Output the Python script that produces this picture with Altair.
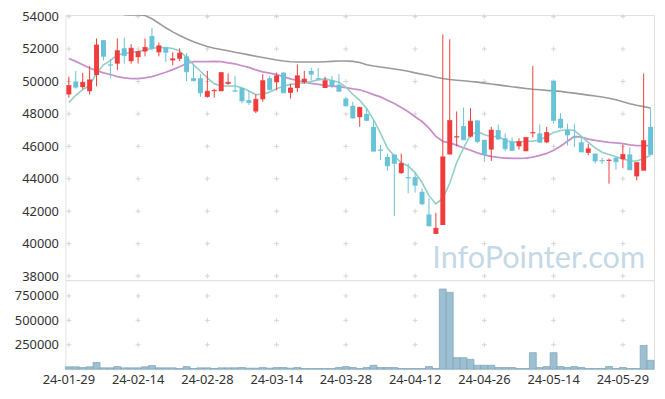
import altair as alt
import pandas as pd

dates = ["24-01-29","24-01-30","24-01-31","24-02-01","24-02-02","24-02-05","24-02-06","24-02-07","24-02-08","24-02-13",
         "24-02-14","24-02-15","24-02-16","24-02-19","24-02-20","24-02-21","24-02-22","24-02-23","24-02-26","24-02-27",
         "24-02-28","24-02-29","24-03-04","24-03-05","24-03-06","24-03-07","24-03-08","24-03-11","24-03-12","24-03-13",
         "24-03-14","24-03-15","24-03-18","24-03-19","24-03-20","24-03-21","24-03-22","24-03-25","24-03-26","24-03-27",
         "24-03-28","24-03-29","24-04-01","24-04-02","24-04-03","24-04-04","24-04-05","24-04-08","24-04-09","24-04-11",
         "24-04-12","24-04-15","24-04-16","24-04-17","24-04-18","24-04-19","24-04-22","24-04-23","24-04-24","24-04-25",
         "24-04-26","24-04-29","24-04-30","24-05-02","24-05-03","24-05-07","24-05-08","24-05-09","24-05-10","24-05-13",
         "24-05-14","24-05-16","24-05-17","24-05-20","24-05-21","24-05-22","24-05-23","24-05-24","24-05-27","24-05-28",
         "24-05-29","24-05-30","24-05-31","24-06-03","24-06-04"]

opens = [49200,50000,49650,49400,50400,52550,51050,51100,52050,51250,
         51500,51850,52800,51800,52100,51300,51400,51550,50200,50200,
         49050,49400,49400,49850,49450,49600,48850,48150,48900,50200,
         49950,50550,49300,49600,49950,50650,50200,49600,50050,49800,
         48950,48500,47800,48000,47200,45800,45350,45500,44350,44100,
         44100,43200,41800,40600,41150,45500,46550,47250,46600,47600,
         46400,45800,47000,46500,46300,46000,45700,46800,46800,46250,
         50050,47700,47000,46600,46250,45600,45550,45150,45100,45300,
         45200,45500,44150,44500,47200]
highs = [50300,50650,50530,50950,52650,52550,51400,52650,52700,52300,
         51900,52650,53300,52400,52100,51800,52050,51750,51050,50450,
         50650,49550,50550,50500,50350,49600,49450,49200,50450,50350,
         50550,50550,49850,51050,50650,50850,50830,50300,50350,50450,
         49050,48750,48450,48350,47600,46100,45550,45500,45550,44950,
         44350,43400,42800,41900,52900,52600,48150,48400,48350,47600,
         46400,47200,47350,46800,46550,46500,46550,50950,47350,47200,
         50050,48050,47400,47400,46650,46150,45550,45300,45250,45300,
         46100,45950,45000,50500,48350]
lows = [49000,49550,49550,49200,49700,51300,50200,50700,51100,51100,
        51100,51550,51900,51550,51200,51000,51250,50000,50000,49050,
        49000,49000,49400,49800,49350,48650,48550,48050,48750,49450,
        49450,49300,48950,49350,49850,50050,50100,49600,49600,49350,
        48450,47700,47200,47550,45700,45150,44500,41700,44300,43100,
        43150,42380,41050,40600,41150,45500,46000,46400,46550,46200,
        45050,45100,46400,45700,45700,45800,45700,46550,46250,46200,
        47400,47100,46050,45950,45650,45450,44950,44900,43700,44550,
        44650,44550,43900,44500,45500]
closes = [49750,49650,49950,50100,52250,51550,51000,51900,51600,52050,
          51850,52100,52050,52200,51800,51400,51750,50600,50050,49300,
          49400,49450,50550,49950,49400,48800,48700,48900,50050,49500,
          50350,49300,49600,50350,50150,50450,50150,50050,49750,49400,
          48500,47750,48400,47600,45700,45750,44800,44950,44950,44050,
          43600,42450,41100,40950,45350,47600,46600,46400,47550,46300,
          45500,47000,46450,45850,45750,46300,46550,46850,46250,46850,
          47600,47150,46700,46550,45650,45850,45100,45100,45150,45050,
          45500,44550,45000,46350,45500]

ma5 = [48700,49150,49490,49760,50500,51030,51280,51640,51720,51790,
       51850,51950,52030,52090,52090,52030,51890,51480,51040,50630,
       50220,49860,49720,49720,49720,49620,49410,49190,49210,49350,
       49550,49700,49820,49860,49920,50000,50100,50160,50060,49960,
       49660,49210,48840,48340,47630,46820,45900,45400,44990,44790,
       44380,43770,42960,42450,42800,43720,45000,45900,46700,46920,
       46720,46610,46610,46370,46250,46250,46310,46310,46410,46610,
       46860,46980,47020,46980,46610,46250,45900,45640,45500,45360,
       45230,45100,45100,45250,45450]
ma20 = [51420,51240,51030,50830,50670,50530,50430,50300,50220,50180,
        50180,50220,50300,50430,50570,50730,50910,51110,51220,51220,
        51220,51240,51220,51140,51080,50970,50870,50710,50590,50510,
        50430,50300,50160,50060,49960,49880,49820,49760,49720,49680,
        49620,49550,49490,49350,49190,49050,48840,48640,48400,48130,
        47830,47530,47120,46610,46310,46210,46070,45900,45760,45600,
        45480,45380,45320,45280,45260,45260,45280,45340,45440,45560,
        45760,46000,46310,46610,46570,46450,46370,46310,46250,46210,
        46170,46090,46050,46050,46050]
ma60 = [None,None,None,None,None,None,54600,54300,54120,54100,
        54100,54070,53870,53590,53310,53060,52840,52640,52450,52290,
        52150,52050,51970,51890,51800,51720,51640,51560,51480,51400,
        51320,51260,51220,51200,51200,51200,51200,51220,51240,51260,
        51260,51240,51170,51030,50950,50890,50830,50770,50710,50630,
        50530,50450,50370,50260,50180,50120,50080,50040,50000,49960,
        49900,49840,49790,49730,49670,49620,49570,49520,49490,49450,
        49420,49390,49330,49280,49220,49160,49100,49040,48970,48870,
        48750,48630,48530,48450,48360]
volumes = [24000,24000,17000,24000,68000,14000,14000,27000,14000,14000,
           14000,24000,37000,14000,14000,14000,7000,27000,7000,14000,
           14000,7000,14000,14000,14000,17000,10000,10000,17000,10000,
           17000,17000,10000,17000,7000,7000,7000,7000,7000,17000,
           27000,17000,7000,17000,40000,17000,17000,17000,7000,7000,
           7000,7000,27000,7000,821000,787000,118000,118000,101000,40000,
           40000,40000,17000,17000,17000,7000,7000,169000,17000,27000,
           169000,27000,17000,27000,17000,7000,7000,7000,27000,7000,
           17000,7000,7000,243000,91000]

label_dates = dates[::10]
price_ticks = list(range(38000, 54001, 2000))
vol_ticks = [250000, 500000, 750000]

RED = "#f03c3c"
BLUE = "#68c2d8"
FONT = "Noto Sans"
CROSS = "M-1,0L1,0M0,-1L0,1"

df = pd.DataFrame(dict(date=dates, open=opens, high=highs, low=lows, close=closes,
                       ma5=ma5, ma20=ma20, vol=volumes))
df["idx"] = range(len(df))
df["dir"] = ["up" if c >= o else "down" for o, c in zip(opens, closes)]
df60 = pd.DataFrame(dict(date=dates, ma60=ma60, idx=range(len(dates)))).dropna()

xscale = alt.Scale(domain=dates, paddingInner=0, paddingOuter=0)
yscale = alt.Scale(domain=[37750, 54100], nice=False, zero=False)
vscale = alt.Scale(domain=[0, 912000], nice=False, zero=False)

yaxis = alt.Axis(values=price_ticks, title=None, ticks=False, domain=False, grid=False,
                 labelPadding=7, labelFontSize=13, labelColor="#333333", labelFont=FONT,
                 minExtent=48, maxExtent=48, format="d")
vaxis = alt.Axis(values=vol_ticks, title=None, ticks=False, domain=False, grid=False,
                 labelPadding=7, labelFontSize=13, labelColor="#333333", labelFont=FONT,
                 minExtent=48, maxExtent=48, format="d")
xaxis = alt.Axis(values=label_dates, title=None, labelAngle=0, ticks=False, domain=False,
                 grid=False, labelPadding=4, labelFontSize=13, labelColor="#333333",
                 labelFont=FONT)

xh = alt.X("date:N", scale=xscale, axis=None, sort=None)
color = alt.Color("dir:N", scale=alt.Scale(domain=["up", "down"], range=[RED, BLUE]), legend=None)

cross_p = pd.DataFrame([(d, p) for d in label_dates for p in price_ticks], columns=["date", "p"])
cross_v = pd.DataFrame([(d, v) for d in label_dates for v in vol_ticks], columns=["date", "v"])

crosses = alt.Chart(cross_p).mark_point(shape=CROSS, size=25, filled=False, color="#d4d4d4",
                                         strokeWidth=1, opacity=1).encode(
    x=xh, y=alt.Y("p:Q", scale=yscale, axis=yaxis))

watermark = alt.Chart(pd.DataFrame({"t": ["InfoPointer.com"]})).mark_text(
    align="right", baseline="alphabetic", fontSize=31, font="Lato", color="#c4d9e5").encode(
    x=alt.value(586), y=alt.value(256), text="t:N")

def ma_line(data, field, col, w):
    return alt.Chart(data).mark_line(color=col, strokeWidth=w, clip=True).encode(
        x=xh, y=alt.Y(f"{field}:Q", scale=yscale, axis=yaxis), order="idx:Q")

l60 = ma_line(df60, "ma60", "#9a9a9a", 1.6)
l20 = ma_line(df, "ma20", "#c98fc9", 1.8)
l5 = ma_line(df, "ma5", "#8fcfc5", 1.6)

wick = alt.Chart(df).mark_rule(strokeWidth=1).encode(
    x=xh, y=alt.Y("low:Q", scale=yscale, axis=yaxis), y2="high:Q", color=color)
body = alt.Chart(df).mark_bar(size=5).encode(
    x=xh, y=alt.Y("open:Q", scale=yscale, axis=yaxis), y2="close:Q", color=color)
tick = alt.Chart(df).mark_tick(thickness=1, size=5).encode(
    x=xh, y=alt.Y("close:Q", scale=yscale, axis=yaxis), color=color)

price = alt.layer(crosses, watermark, l60, l20, l5, wick, body, tick).properties(width=595, height=268)

vcross = alt.Chart(cross_v).mark_point(shape=CROSS, size=25, filled=False, color="#d4d4d4",
                                        strokeWidth=1, opacity=1).encode(
    x=alt.X("date:N", scale=xscale, axis=xaxis, sort=None),
    y=alt.Y("v:Q", scale=vscale, axis=vaxis))
vbars = alt.Chart(df).mark_bar(color="#9cc0d1", stroke="#7ba4b8", strokeWidth=0.7).encode(
    x=alt.X("date:N", scale=xscale, axis=xaxis, sort=None),
    y=alt.Y("vol:Q", scale=vscale, axis=vaxis))
volume = alt.layer(vcross, vbars).properties(width=595, height=90)

chart = alt.vconcat(price, volume, spacing=0, bounds="flush").configure_view(
    stroke="#e2e2e2", strokeWidth=1).properties(
    padding={"left": 5, "top": 0, "right": 2, "bottom": 2}, background="white")

chart.save("out.html", embed_options={"renderer": "svg", "actions": False})
